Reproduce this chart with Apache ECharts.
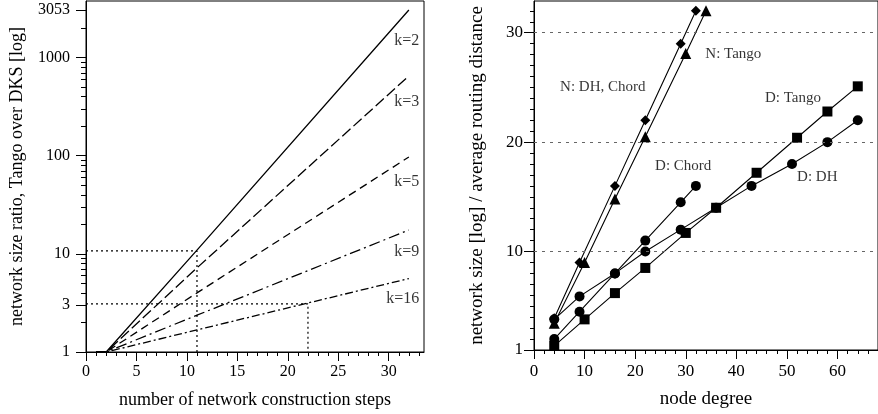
<!DOCTYPE html>
<html>
<head>
<meta charset="utf-8">
<script src="https://cdn.jsdelivr.net/npm/echarts@6/dist/echarts.min.js"></script>
<style>
html, body { margin: 0; padding: 0; background: #fff; }
#main { width: 878px; height: 414px; }
</style>
</head>
<body>
<div id="main"></div>
<script>
// ---- left panel: network size ratio, Tango over DKS
var stepX = [1, 2, 11, 32];
var ratioK2 = [1, 1, 10.9, 3053];
var ratioK3 = [1, 1, 7.2, 650];
var ratioK5 = [1, 1, 4.0, 97];
var ratioK9 = [1, 1, 2.37, 17.5];
var ratioK16 = [1, 1, 1.68, 5.6];
var kNames = ['k=2', 'k=3', 'k=5', 'k=9', 'k=16'];
var kLabelX = [31.8, 31.8, 31.8, 31.8, 31.4];
var kLabelY = [1475, 355, 54, 10.4, 3.47];
// dotted helper lines
var guide1X = [0, 11, 11];
var guide1Y = [10.7, 10.7, 1];
var guide2X = [0, 22, 22];
var guide2Y = [3.1, 3.1, 1];
var leftXTicks = [0, 5, 10, 15, 20, 25, 30];
var leftYTicks = [1, 3, 10, 100, 1000, 3053];
var leftYMinor = [2, 4, 5, 6, 7, 8, 9, 20, 30, 40, 50, 60, 70, 80, 90,
  200, 300, 400, 500, 600, 700, 800, 900, 2000, 3000];

// ---- right panel: network size / routing distance vs node degree
var nDhChordX = [4, 9, 16, 22, 29, 32];
var nDhChordY = [3.9, 9.0, 16.0, 22.0, 29.0, 32.0];
var nTangoX = [4, 10, 16, 22, 30, 34];
var nTangoY = [3.45, 9.0, 14.8, 20.5, 28.1, 32.0];
var dChordX = [4, 9, 16, 22, 29, 32];
var dChordY = [3.8, 5.9, 8.0, 11.0, 14.5, 16.0];
var dDhX = [4, 9, 16, 22, 29, 36, 43, 51, 58, 64];
var dDhY = [2.0, 4.5, 8.0, 10.0, 12.0, 14.0, 16.0, 18.0, 20.0, 22.0];
var dTangoX = [4, 10, 16, 22, 30, 36, 44, 52, 58, 64];
var dTangoY = [1.38, 3.8, 6.2, 8.5, 11.7, 14.0, 17.2, 20.4, 22.8, 25.1];
var seriesNames = ['N: Tango', 'N: DH, Chord', 'D: Tango', 'D: Chord', 'D: DH'];
var nameX = [39.4, 13.6, 51.2, 29.5, 56.0];
var nameY = [28.06, 25.0, 24.0, 17.8, 16.8];
var rightXTicks = [0, 10, 20, 30, 40, 50, 60];
var rightYTicks = [1, 10, 20, 30];
var gridLevels = [10, 20, 30];

var FONT = 'Liberation Serif';
var TICK = '#000';

function zip(xs, ys) {
  var out = [];
  for (var i = 0; i < xs.length; i++) out.push([xs[i], ys[i]]);
  return out;
}
function steps1(from, to, step, skip) {
  var out = [];
  for (var v = from; v <= to; v += step) {
    if (v % skip != 0) out.push(v);
  }
  return out;
}

var myChart = echarts.init(document.getElementById('main'), null, { renderer: 'canvas' });

function lineSeries(data, type, width) {
  return {
    type: 'line', xAxisIndex: 0, yAxisIndex: 0,
    data: data, showSymbol: false, symbol: 'none',
    lineStyle: { color: '#000', width: width || 1.3, type: type },
    silent: true
  };
}
function markerSeries(data, symbol, size) {
  return {
    type: 'line', xAxisIndex: 2, yAxisIndex: 2,
    data: data, symbol: symbol, symbolSize: size, showSymbol: true,
    itemStyle: { color: '#000' },
    lineStyle: { color: '#000', width: 1.1 },
    silent: true
  };
}
// invisible-line axis that only carries short minor ticks
function minorAxis(gridIndex, type, min, max, position, values, len) {
  return {
    gridIndex: gridIndex, type: type, min: min, max: max, position: position, offset: 0,
    axisLine: { show: true, lineStyle: { color: '#000', opacity: 0 } },
    axisTick: { show: true, customValues: values, length: len, lineStyle: { color: TICK, width: 1 } },
    axisLabel: { show: false },
    splitLine: { show: false }
  };
}

var kLabelData = [];
for (var i = 0; i < kNames.length; i++) {
  kLabelData.push({ name: kNames[i], value: [kLabelX[i], kLabelY[i]] });
}
var nameData = [];
for (var i = 0; i < seriesNames.length; i++) {
  nameData.push({ name: seriesNames[i], value: [nameX[i], nameY[i]] });
}

var option = {
  animation: false,
  backgroundColor: '#fff',
  grid: [
    { left: 86, top: 1, width: 338, height: 351, show: true, borderColor: '#000', borderWidth: 1, backgroundColor: 'transparent' },
    { left: 534, top: 1, width: 345, height: 349, show: true, borderColor: '#000', borderWidth: 1, backgroundColor: 'transparent' }
  ],
  xAxis: [
    {
      gridIndex: 0, type: 'value', min: 0, max: 33.5, position: 'bottom', offset: 0,
      axisLine: { lineStyle: { color: '#000', width: 1 } },
      axisTick: { show: true, customValues: leftXTicks, length: 9, lineStyle: { color: TICK } },
      axisLabel: { customValues: leftXTicks, margin: 12, fontFamily: FONT, fontSize: 16, color: '#000' },
      splitLine: { show: false },
      name: 'number of network construction steps', nameLocation: 'middle', nameGap: 39,
      nameTextStyle: { fontFamily: FONT, fontSize: 18, color: '#000' }
    },
    minorAxis(0, 'value', 0, 33.5, 'bottom', steps1(1, 33, 1, 5), 4),
    {
      gridIndex: 1, type: 'value', min: 0, max: 68, position: 'bottom', offset: 0,
      axisLine: { lineStyle: { color: '#000', width: 1 } },
      axisTick: { show: true, customValues: rightXTicks, length: 9, lineStyle: { color: TICK } },
      axisLabel: { customValues: rightXTicks, margin: 13, fontFamily: FONT, fontSize: 17, color: '#000' },
      splitLine: { show: false },
      name: 'node degree', nameLocation: 'middle', nameGap: 40,
      nameTextStyle: { fontFamily: FONT, fontSize: 19, color: '#000' }
    },
    minorAxis(1, 'value', 0, 68, 'bottom', steps1(2, 68, 2, 10), 4)
  ],
  yAxis: [
    {
      gridIndex: 0, type: 'log', min: 1, max: 3770, position: 'left', offset: 0,
      axisLine: { lineStyle: { color: '#000', width: 1 } },
      axisTick: { show: true, customValues: leftYTicks, length: 10, lineStyle: { color: TICK } },
      axisLabel: {
        customValues: leftYTicks, margin: 16, fontFamily: FONT, fontSize: 16, color: '#000',
        formatter: function (v) { return String(Math.round(v)); }
      },
      splitLine: { show: false },
      name: 'network size ratio, Tango over DKS [log]', nameLocation: 'middle', nameGap: 60,
      nameTextStyle: { fontFamily: FONT, fontSize: 18, color: '#000' }
    },
    minorAxis(0, 'log', 1, 3770, 'left', leftYMinor, 5),
    {
      gridIndex: 1, type: 'value', min: 1, max: 32.9, position: 'left', offset: 0,
      axisLine: { lineStyle: { color: '#000', width: 1 } },
      axisTick: { show: true, customValues: rightYTicks, length: 10, lineStyle: { color: TICK } },
      axisLabel: { customValues: rightYTicks, margin: 11, fontFamily: FONT, fontSize: 17, color: '#000' },
      splitLine: { show: false },
      name: 'network size [log] / average routing distance', nameLocation: 'middle', nameGap: 47,
      nameTextStyle: { fontFamily: FONT, fontSize: 19, color: '#000' }
    },
    minorAxis(1, 'value', 1, 32.9, 'left', steps1(2, 32, 1, 10), 4)
  ],
  series: [
    // dotted guides
    lineSeries(zip(guide1X, guide1Y), [2, 3], 1.2),
    lineSeries(zip(guide2X, guide2Y), [2, 3], 1.2),
    // k curves
    lineSeries(zip(stepX, ratioK2), 'solid'),
    lineSeries(zip(stepX, ratioK3), [11, 4]),
    lineSeries(zip(stepX, ratioK5), [8, 5]),
    lineSeries(zip(stepX, ratioK9), [11, 4, 2, 4]),
    lineSeries(zip(stepX, ratioK16), [8, 3, 2, 3]),
    {
      type: 'scatter', xAxisIndex: 0, yAxisIndex: 0, symbolSize: 0, silent: true,
      data: kLabelData,
      label: { show: true, position: 'inside', formatter: '{b}', fontFamily: FONT, fontSize: 16, color: '#000' }
    },
    // right panel
    {
      type: 'line', xAxisIndex: 2, yAxisIndex: 2, data: [], silent: true,
      markLine: {
        silent: true, symbol: 'none', label: { show: false },
        lineStyle: { color: '#666', width: 1, type: [3, 5] },
        data: gridLevels.map(function (v) { return { yAxis: v }; })
      }
    },
    markerSeries(zip(dTangoX, dTangoY), 'rect', 10),
    markerSeries(zip(dDhX, dDhY), 'circle', 10),
    markerSeries(zip(dChordX, dChordY), 'circle', 10),
    markerSeries(zip(nTangoX, nTangoY), 'triangle', 11),
    markerSeries(zip(nDhChordX, nDhChordY), 'diamond', 10),
    {
      type: 'scatter', xAxisIndex: 2, yAxisIndex: 2, symbolSize: 0, silent: true,
      data: nameData,
      label: { show: true, position: 'inside', formatter: '{b}', fontFamily: FONT, fontSize: 15, color: '#000' }
    }
  ]
};
myChart.setOption(option);
</script>
</body>
</html>
